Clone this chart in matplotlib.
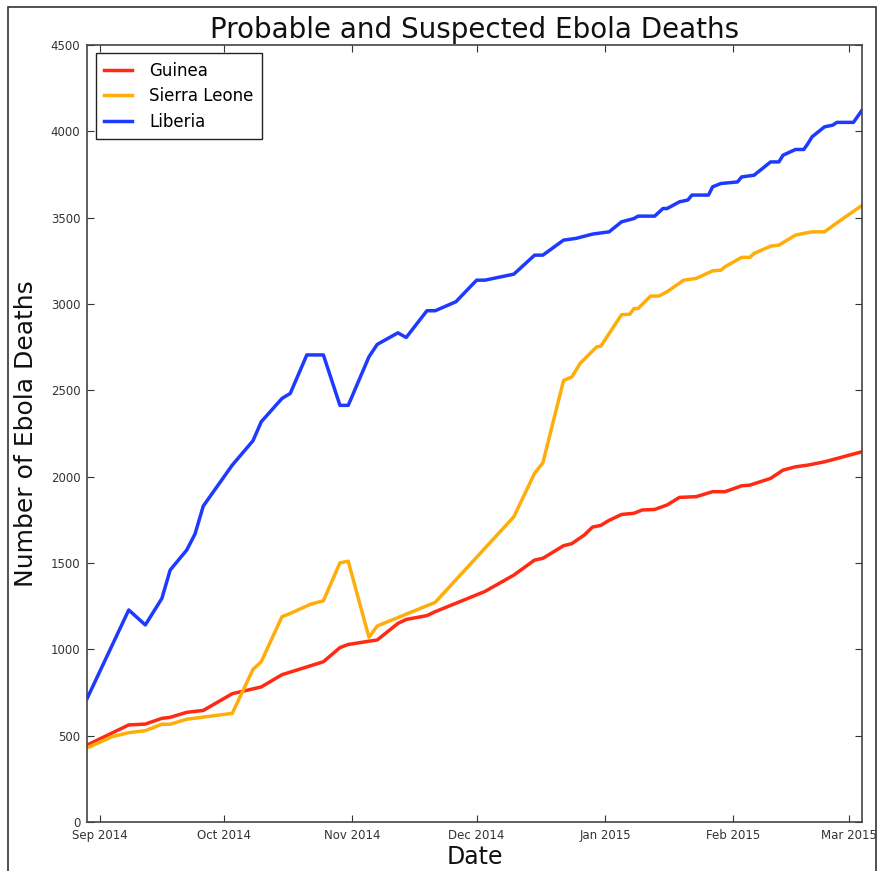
import numpy as np
import pandas as pd
import matplotlib
matplotlib.use("Agg")
import matplotlib.pyplot as plt
import matplotlib.dates as mdates
from matplotlib.patches import Rectangle

# Probable + suspected deaths
guinea_dates = ["2014-08-29", "2014-09-08", "2014-09-12", "2014-09-16", "2014-09-18", "2014-09-22",
                "2014-09-26", "2014-10-03", "2014-10-10", "2014-10-15", "2014-10-25", "2014-10-29",
                "2014-10-31", "2014-11-05", "2014-11-07", "2014-11-12", "2014-11-14", "2014-11-19",
                "2014-11-21", "2014-12-03", "2014-12-10", "2014-12-15", "2014-12-17", "2014-12-22",
                "2014-12-24", "2014-12-27", "2014-12-29", "2014-12-31", "2015-01-02", "2015-01-05",
                "2015-01-08", "2015-01-10", "2015-01-13", "2015-01-16", "2015-01-19", "2015-01-23",
                "2015-01-27", "2015-01-30", "2015-02-03", "2015-02-05", "2015-02-10", "2015-02-13",
                "2015-02-16", "2015-02-19", "2015-02-23", "2015-02-26", "2015-03-04"]
guinea_deaths = [446, 562, 567, 600, 606, 635,
                 646, 743, 782, 853, 928, 1010,
                 1028, 1047, 1054, 1150, 1173, 1195,
                 1218, 1335, 1430, 1517, 1527, 1600,
                 1612, 1662, 1708, 1718, 1747, 1781,
                 1788, 1807, 1810, 1836, 1880, 1884,
                 1913, 1913, 1947, 1951, 1990, 2038,
                 2057, 2067, 2086, 2105, 2144]

sierra_dates = ["2014-08-29", "2014-09-04", "2014-09-08", "2014-09-12", "2014-09-16", "2014-09-18",
                "2014-09-22", "2014-10-03", "2014-10-08", "2014-10-10", "2014-10-15", "2014-10-17",
                "2014-10-22", "2014-10-25", "2014-10-29", "2014-10-31", "2014-11-05", "2014-11-07",
                "2014-11-21", "2014-12-10", "2014-12-15", "2014-12-17", "2014-12-22", "2014-12-24",
                "2014-12-26", "2014-12-30", "2014-12-31", "2015-01-05", "2015-01-07", "2015-01-08",
                "2015-01-09", "2015-01-12", "2015-01-14", "2015-01-16", "2015-01-20", "2015-01-23",
                "2015-01-27", "2015-01-29", "2015-01-30", "2015-02-03", "2015-02-05", "2015-02-06",
                "2015-02-10", "2015-02-12", "2015-02-16", "2015-02-18", "2015-02-20", "2015-02-23",
                "2015-02-26", "2015-03-04"]
sierra_deaths = [430, 494, 517, 529, 566, 566,
                 595, 629, 884, 928, 1189, 1208,
                 1262, 1281, 1501, 1510, 1070, 1135,
                 1272, 1768, 2020, 2080, 2557, 2578,
                 2656, 2752, 2756, 2938, 2941, 2974,
                 2974, 3046, 3046, 3071, 3138, 3148,
                 3192, 3196, 3216, 3270, 3270, 3293,
                 3335, 3341, 3399, 3409, 3418, 3418,
                 3470, 3570]

liberia_dates = ["2014-08-29", "2014-09-08", "2014-09-12", "2014-09-16", "2014-09-18", "2014-09-22",
                 "2014-09-24", "2014-09-26", "2014-10-03", "2014-10-08", "2014-10-10", "2014-10-15",
                 "2014-10-17", "2014-10-21", "2014-10-25", "2014-10-29", "2014-10-31", "2014-11-05",
                 "2014-11-07", "2014-11-12", "2014-11-14", "2014-11-19", "2014-11-21", "2014-11-26",
                 "2014-12-01", "2014-12-03", "2014-12-10", "2014-12-15", "2014-12-17", "2014-12-22",
                 "2014-12-25", "2014-12-29", "2015-01-02", "2015-01-05", "2015-01-08", "2015-01-09",
                 "2015-01-13", "2015-01-15", "2015-01-16", "2015-01-19", "2015-01-21", "2015-01-22",
                 "2015-01-26", "2015-01-27", "2015-01-29", "2015-02-02", "2015-02-03", "2015-02-06",
                 "2015-02-10", "2015-02-12", "2015-02-13", "2015-02-16", "2015-02-18", "2015-02-19",
                 "2015-02-20", "2015-02-23", "2015-02-25", "2015-02-26", "2015-03-02", "2015-03-04"]
liberia_deaths = [718, 1228, 1141, 1295, 1459, 1575,
                  1668, 1830, 2067, 2208, 2318, 2453,
                  2482, 2705, 2705, 2413, 2413, 2694,
                  2766, 2833, 2806, 2961, 2961, 3013,
                  3138, 3138, 3173, 3283, 3283, 3370,
                  3380, 3405, 3418, 3476, 3495, 3509,
                  3509, 3553, 3553, 3592, 3602, 3631,
                  3631, 3679, 3698, 3707, 3736, 3746,
                  3823, 3823, 3862, 3895, 3895, 3929,
                  3968, 4026, 4036, 4052, 4052, 4120]

countries = ["Guinea", "Sierra Leone", "Liberia"]
colors = ["#ff2a14", "#ffad0a", "#1e3aff"]

fig = plt.figure(figsize=(8.84, 8.71), dpi=100)
ax = fig.add_axes([0.0988, 0.0563, 0.876, 0.892])

series = [(guinea_dates, guinea_deaths), (sierra_dates, sierra_deaths), (liberia_dates, liberia_deaths)]
for name, col, (d, v) in zip(countries, colors, series):
    ax.plot(pd.to_datetime(d), v, color=col, lw=2.5, label=name)

ax.set_xlim(pd.Timestamp("2014-08-29"), pd.Timestamp("2015-03-04"))
ax.set_ylim(0, 4500)
ax.set_yticks(np.arange(0, 4501, 500))
ax.xaxis.set_major_locator(mdates.MonthLocator())
ax.xaxis.set_major_formatter(mdates.DateFormatter("%b %Y"))

# classic-style frame: ticks inside on all sides
ax.tick_params(direction="in", top=True, right=True, length=5, width=0.8,
               labelsize=8.5, colors="#333333", pad=5)
for sp in ax.spines.values():
    sp.set_color("#444444")
    sp.set_linewidth(1.2)

ax.set_title("Probable and Suspected Ebola Deaths", fontsize=20, color="#111111", pad=5)
ax.set_xlabel("Date", fontsize=17, color="#111111", labelpad=2)
ax.set_ylabel("Number of Ebola Deaths", fontsize=18, color="#111111", labelpad=9)

leg = ax.legend(loc="upper left", fontsize=12, fancybox=False, framealpha=1,
                edgecolor="#222222", handlelength=1.7, handletextpad=1.0,
                borderpad=0.5, labelspacing=0.45)
leg.get_frame().set_linewidth(1.0)

# thin border of the original screenshot
fig.patches.append(Rectangle((8 / 884, -0.05), 868 / 884, 1.05 - 7 / 871,
                             transform=fig.transFigure, fill=False,
                             edgecolor="#333333", lw=1.2))

fig.savefig("out.png", dpi=100)
